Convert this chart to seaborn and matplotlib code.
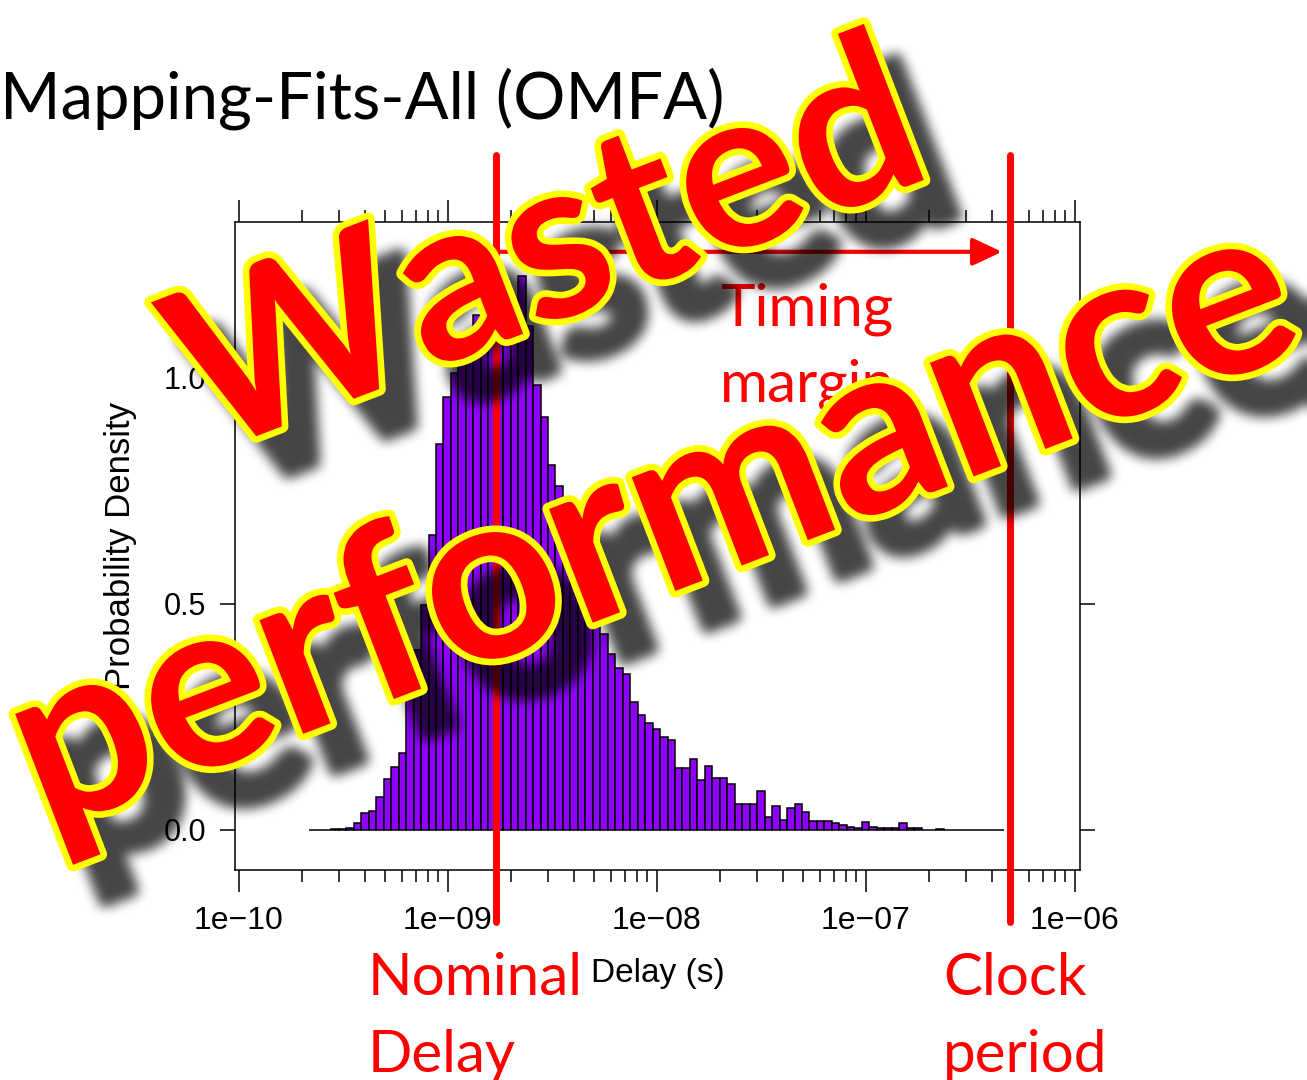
import numpy as np
import pandas as pd
import matplotlib
matplotlib.use("Agg")
import matplotlib.pyplot as plt
import matplotlib.patheffects as pe
from matplotlib.backends.backend_agg import FigureCanvasAgg
from matplotlib.ticker import FixedLocator, LogLocator, NullFormatter, NullLocator
import seaborn as sns

# ---------------------------------------------------------------- data
# histogram of path delays, log10-spaced bins
bin_log_start = -9.665
bin_log_width = 0.03574
density = [
    0.0, 0.0, 0.0, 0.002, 0.003, 0.004, 0.015, 0.037, 0.042, 0.072,
    0.113, 0.139, 0.170, 0.291, 0.399, 0.497, 0.652, 0.853, 0.958, 1.010,
    1.050, 1.100, 1.140, 1.190, 1.250, 1.200, 1.186, 1.155, 1.226, 1.115,
    0.985, 0.913, 0.807, 0.761, 0.700, 0.640, 0.580, 0.520, 0.470, 0.433,
    0.389, 0.358, 0.345, 0.283, 0.254, 0.237, 0.223, 0.205, 0.200, 0.137,
    0.137, 0.157, 0.111, 0.142, 0.116, 0.116, 0.102, 0.058, 0.058, 0.058,
    0.087, 0.029, 0.053, 0.022, 0.048, 0.057, 0.039, 0.020, 0.020, 0.020,
    0.016, 0.011, 0.007, 0.004, 0.017, 0.007, 0.004, 0.004, 0.004, 0.015,
    0.004, 0.004, 0.0, 0.0, 0.003, 0.0, 0.0, 0.0, 0.0, 0.0,
    0.0, 0.0, 0.0,
]
xtick_values = [1e-10, 1e-9, 1e-8, 1e-7, 1e-6]
xtick_labels = ["1e\u221210", "1e\u221209", "1e\u221208", "1e\u221207", "1e\u221206"]
ytick_values = [0.0, 0.5, 1.0]
ytick_labels = ["0.0", "0.5", "1.0"]
nominal_delay = 1.7e-9
clock_period = 4.9e-7

title_text = "Mapping-Fits-All (OMFA)"
margin_lines = ["Timing", "margin"]
nominal_lines = ["Nominal", "Delay"]
clock_lines = ["Clock", "period"]
stamp_words = ["Wasted", "performance"]

# ---------------------------------------------------------------- style
sns.set_theme(style="ticks")
plt.rcParams["font.family"] = ["Liberation Sans", "DejaVu Sans"]
slide_font = ["Lato", "DejaVu Sans"]

W, H = 1307, 1080
RED = "#FF0000"
YELLOW = "#FFFF00"


def fx(px):
    return px / W


def fy(py):
    return 1 - py / H


fig = plt.figure(figsize=(W / 100, H / 100), dpi=100)
fig.patch.set_facecolor("white")
ax = fig.add_axes([fx(235), fy(870), 845 / W, 648 / H])

# ---------------------------------------------------------------- histogram
edges = bin_log_start + bin_log_width * np.arange(len(density) + 1)
centers = 10 ** (edges[:-1] + bin_log_width / 2)
df = pd.DataFrame({"delay": centers, "density": density})
sns.histplot(
    data=df, x="delay", weights="density", bins=list(edges), log_scale=True,
    stat="count", color="#9000FF", edgecolor="black", linewidth=1.1,
    alpha=1, ax=ax,
)

ax.set_xlim(10 ** -10.019, 10 ** -5.976)
ax.set_ylim(-0.0885, 1.345)
ax.grid(False)
ax.set_facecolor("white")

ax.xaxis.set_major_locator(FixedLocator(xtick_values))
ax.set_xticklabels(xtick_labels)
ax.xaxis.set_minor_locator(LogLocator(base=10, subs=np.arange(2, 10), numticks=50))
ax.xaxis.set_minor_formatter(NullFormatter())
ax.tick_params(axis="x", which="major", direction="out", length=16, width=1.1,
               pad=10, labelsize=23, top=True, bottom=True, labeltop=False,
               color="black", labelcolor="black")
ax.tick_params(axis="x", which="minor", direction="out", length=8.5, width=1.1,
               top=True, bottom=True, color="black")
ax.set_yticks(ytick_values, ytick_labels)
ax.yaxis.set_minor_locator(NullLocator())
ax.tick_params(axis="y", which="major", direction="out", length=10.8, width=1.1,
               pad=10, labelsize=22, left=True, right=True, labelright=False,
               color="black", labelcolor="black")
for sp in ax.spines.values():
    sp.set_visible(True)
    sp.set_linewidth(1.1)
    sp.set_color("black")

ax.set_xlabel("Delay (s)", fontsize=24, labelpad=16, color="black")
ax.set_ylabel("Probability Density", fontsize=25, labelpad=19, color="black")

# ---------------------------------------------------------------- markers
for xv in (nominal_delay, clock_period):
    ax.axvline(xv, ymin=-0.0802, ymax=1.1034, color=RED, lw=5,
               clip_on=False, zorder=4)

ax.annotate(
    "", xy=(clock_period, 0.954), xytext=(nominal_delay, 0.954),
    xycoords=("data", "axes fraction"), textcoords=("data", "axes fraction"),
    arrowprops=dict(arrowstyle="-|>,head_length=1.8,head_width=0.85",
                    color=RED, lw=3, shrinkA=0, shrinkB=6, mutation_scale=10),
    annotation_clip=False, zorder=4,
)

# ---------------------------------------------------------------- slide text
fig.text(fx(0), fy(118), title_text, fontsize=47, color="black",
         family=slide_font, va="baseline", ha="left", zorder=3)

for (px, py), s in zip([(720, 326), (720, 402)], margin_lines):
    fig.text(fx(px), fy(py), s, fontsize=42, color=RED, family=slide_font,
             va="baseline", ha="left", zorder=3)
for (px, py), s in zip([(368, 995), (368, 1072)], nominal_lines):
    fig.text(fx(px), fy(py), s, fontsize=42, color=RED, family=slide_font,
             va="baseline", ha="left", zorder=3)
for (px, py), s in zip([(943, 995), (943, 1072)], clock_lines):
    fig.text(fx(px), fy(py), s, fontsize=42, color=RED, family=slide_font,
             va="baseline", ha="left", zorder=3)

# ---------------------------------------------------------------- stamp
stamp_pos = [(572, 315), (678, 590)]
stamp_sizes = [162, 171]
stamp_rot = 21
outline_w = 9.5
shadow_dx, shadow_dy = 32, 36


def stamp_kwargs(size):
    return dict(fontsize=size, fontweight="bold", family=slide_font,
                rotation=stamp_rot, rotation_mode="anchor", ha="center",
                va="baseline")


# soft drop shadow: render the outlined words offscreen and blur them
sfig = plt.figure(figsize=(W / 100, H / 100), dpi=100)
sfig.patch.set_alpha(0)
for (px, py), s, size in zip(stamp_pos, stamp_words, stamp_sizes):
    sfig.text(fx(px + shadow_dx), fy(py + shadow_dy), s, color="black",
              path_effects=[pe.Stroke(linewidth=outline_w, foreground="black",
                                      joinstyle="round"), pe.Normal()],
              **stamp_kwargs(size))
canvas = FigureCanvasAgg(sfig)
canvas.draw()
mask = np.asarray(canvas.buffer_rgba())[..., 3].astype(float) / 255.0
plt.close(sfig)
full = np.zeros((H, W))
full[:min(H, mask.shape[0]), :min(W, mask.shape[1])] = mask[:H, :W]


def box_blur(img, r, axis):
    pad = [(0, 0), (0, 0)]
    pad[axis] = (r + 1, r)
    p = np.pad(img, pad, mode="edge")
    c = np.cumsum(p, axis=axis)
    n = img.shape[axis]
    hi = np.take(c, np.arange(2 * r + 1, 2 * r + 1 + n), axis=axis)
    lo = np.take(c, np.arange(0, n), axis=axis)
    return (hi - lo) / (2 * r + 1)


soft = full
for _ in range(3):
    soft = box_blur(soft, 5, 0)
    soft = box_blur(soft, 5, 1)
shadow = np.zeros((H, W, 4))
shadow[..., 3] = np.clip(soft, 0, 1) * 0.73
fig.figimage(shadow, xo=0, yo=0, origin="upper", zorder=8)

for (px, py), s, size in zip(stamp_pos, stamp_words, stamp_sizes):
    fig.text(fx(px), fy(py), s, color=RED, zorder=10,
             path_effects=[pe.Stroke(linewidth=outline_w, foreground=YELLOW,
                                     joinstyle="round"), pe.Normal()],
             **stamp_kwargs(size))

fig.savefig("out.png", dpi=100, facecolor="white")
